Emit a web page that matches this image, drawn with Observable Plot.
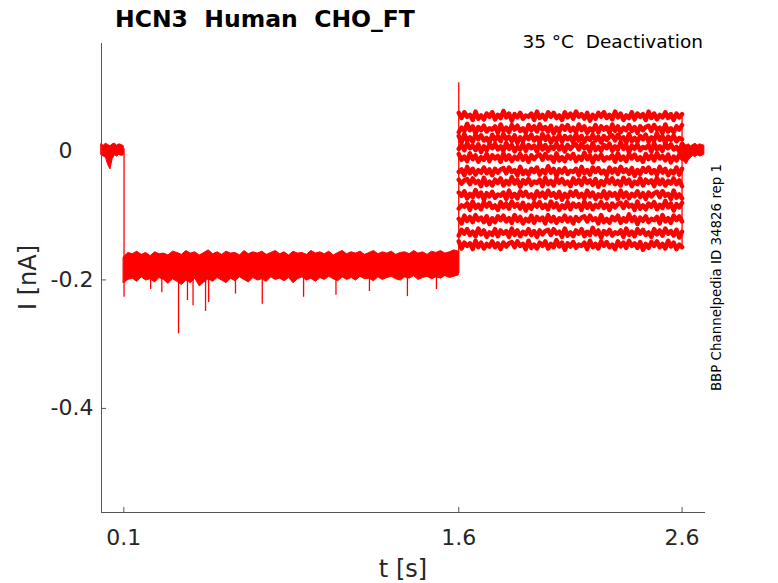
<!DOCTYPE html>
<html><head><meta charset="utf-8">
<script src="https://cdn.jsdelivr.net/npm/d3@7"></script>
<script src="https://cdn.jsdelivr.net/npm/@observablehq/plot@0.6"></script>
<style>body{margin:0;background:#fff} svg{display:block}</style>
</head><body><div id="chart"></div>
<script>
// ---- data ----
const xTicks = [0.1, 1.6, 2.6];
const yTicks = [0, -0.2, -0.4];
const xDomain = [0, 2.705];
const yDomain = [-0.562, 0.168];

// pre-pulse segment (0 – 0.1 s), noise envelope
const preT  = [0, 0.01, 0.02, 0.03, 0.04, 0.05, 0.06, 0.07, 0.08, 0.09, 0.10];
const preHi = [0.011, 0.009, 0.012, 0.010, 0.008, 0.011, 0.012, 0.009, 0.011, 0.010, 0.008];
const preLo = [-0.006, -0.008, -0.010, -0.021, -0.028, -0.012, -0.006, -0.008, -0.005, -0.007, -0.006];

// holding segment (0.1 – 1.6 s, every 0.02 s), noise envelope
const holdHi = [-0.165,-0.158,-0.160,-0.156,-0.161,-0.158,-0.163,-0.157,-0.160,-0.159,
  -0.162,-0.156,-0.158,-0.161,-0.155,-0.159,-0.157,-0.162,-0.158,-0.154,
  -0.160,-0.157,-0.161,-0.156,-0.159,-0.158,-0.162,-0.155,-0.160,-0.157,
  -0.159,-0.156,-0.161,-0.158,-0.155,-0.160,-0.157,-0.162,-0.156,-0.159,
  -0.158,-0.161,-0.155,-0.159,-0.157,-0.160,-0.156,-0.162,-0.158,-0.155,
  -0.160,-0.157,-0.159,-0.156,-0.161,-0.158,-0.155,-0.160,-0.157,-0.159,
  -0.156,-0.161,-0.158,-0.157,-0.160,-0.155,-0.159,-0.157,-0.161,-0.156,
  -0.158,-0.155,-0.159,-0.157,-0.154,-0.156];
const holdLo = [-0.205,-0.200,-0.198,-0.203,-0.196,-0.201,-0.199,-0.204,-0.197,-0.200,
  -0.206,-0.199,-0.203,-0.208,-0.201,-0.205,-0.198,-0.210,-0.204,-0.199,
  -0.203,-0.197,-0.201,-0.205,-0.198,-0.202,-0.196,-0.200,-0.204,-0.197,
  -0.201,-0.199,-0.203,-0.196,-0.200,-0.198,-0.202,-0.197,-0.205,-0.199,
  -0.196,-0.201,-0.198,-0.203,-0.197,-0.200,-0.195,-0.199,-0.202,-0.196,
  -0.200,-0.197,-0.201,-0.195,-0.199,-0.198,-0.202,-0.196,-0.200,-0.197,
  -0.195,-0.199,-0.201,-0.196,-0.198,-0.194,-0.200,-0.197,-0.195,-0.199,
  -0.196,-0.198,-0.194,-0.197,-0.195,-0.193];

// downward spikes and step edges: time, top, bottom (nA)
const spikeT   = [0.101, 0.22, 0.27, 0.345, 0.385, 0.41, 0.466, 0.48, 0.60, 0.72, 0.905, 1.05, 1.20, 1.37, 1.50, 1.60, 2.60];
const spikeTop = [0.004, -0.19, -0.19, -0.19, -0.19, -0.19, -0.19, -0.19, -0.19, -0.19, -0.19, -0.19, -0.19, -0.19, -0.19, 0.107, 0.060];
const spikeBot = [-0.227, -0.215, -0.220, -0.284, -0.232, -0.240, -0.249, -0.235, -0.222, -0.238, -0.227, -0.224, -0.218, -0.226, -0.215, -0.190, -0.152];

// test-pulse traces (1.6 – 2.6 s): mean level of each sweep
const stepLevels = [0.055, 0.035, 0.020, 0.006, -0.010, -0.031, -0.048, -0.068, -0.085, -0.106, -0.127, -0.146];
// ripple, every 0.0125 s
const ripple = [0.005,-0.003,0.006,-0.001,0.002,-0.006,0.007,-0.004,0.001,-0.005,
  0.004,-0.001,0.006,-0.005,0.002,-0.003,0.008,-0.002,0.004,-0.007,
  0.003,-0.002,0.005,-0.004,0.001,-0.001,0.004,-0.006,0.007,-0.003,
  0.002,-0.005,0.006,-0.001,0.005,-0.003,0.001,-0.006,0.006,-0.002,
  0.004,-0.004,0.007,-0.001,0.003,-0.004,0.005,-0.007,0.002,-0.004,
  0.005,-0.001,0.006,-0.003,0.002,-0.005,0.007,-0.002,0.004,-0.006,
  0.001,-0.003,0.006,-0.005,0.004,-0.001,0.003,-0.006,0.007,-0.003,
  0.004,-0.005,0.002,-0.002,0.006,-0.003,0.003,-0.006,0.004,-0.002,0.003];

// post-pulse segment (2.6 – 2.7 s)
const postT  = [2.60, 2.61, 2.62, 2.63, 2.64, 2.65, 2.66, 2.67, 2.68, 2.69, 2.70];
const postHi = [0.010, 0.012, 0.009, 0.011, 0.008, 0.010, 0.012, 0.009, 0.011, 0.010, 0.009];
const postLo = [-0.012, -0.016, -0.020, -0.014, -0.010, -0.007, -0.009, -0.006, -0.008, -0.007, -0.005];

// ---- tables ----
const preRows = preT.map((t, i) => ({t, hi: preHi[i], lo: preLo[i]}));
const holdRows = holdHi.map((hi, i) => ({t: 0.1 + i * 0.02, hi, lo: holdLo[i]}));
const postRows = postT.map((t, i) => ({t, hi: postHi[i], lo: postLo[i]}));
const spikeRows = spikeT.map((t, i) => ({t, top: spikeTop[i], bot: spikeBot[i]}));
const traceRows = [];
stepLevels.forEach((lv, k) => {
  ripple.forEach((_, i) => {
    traceRows.push({k, t: 1.6 + i * 0.0125, I: lv + ripple[(i + 13 * k) % ripple.length]});
  });
});

const W = 778, H = 583, ML = 101, MR = 73, MT = 43, MB = 71;
const axisColor = "#555";
const RED = "#ff0000";

const chart = Plot.plot({
  width: W, height: H,
  marginLeft: ML, marginRight: MR, marginTop: MT, marginBottom: MB,
  x: {domain: xDomain},
  y: {domain: yDomain},
  style: {fontFamily: "DejaVu Sans", color: "#262626", background: "#fff", overflow: "visible"},
  marks: [
    Plot.areaY(preRows, {x: "t", y1: "lo", y2: "hi", fill: RED, stroke: RED, strokeWidth: 1}),
    Plot.areaY(holdRows, {x: "t", y1: "lo", y2: "hi", fill: RED, stroke: RED, strokeWidth: 1}),
    Plot.areaY(postRows, {x: "t", y1: "lo", y2: "hi", fill: RED, stroke: RED, strokeWidth: 1}),
    Plot.line(traceRows, {x: "t", y: "I", z: "k", stroke: RED, strokeWidth: 4.5}),
    Plot.ruleX(spikeRows, {x: "t", y1: "top", y2: "bot", stroke: RED, strokeWidth: 1.3}),
    Plot.ruleX([xDomain[0]], {stroke: axisColor}),
    Plot.ruleY([yDomain[0]], {stroke: axisColor}),
    Plot.tickX(xTicks, {x: d => d, stroke: axisColor, insetTop: H - MT - MB - 5}),
    Plot.tickY(yTicks, {y: d => d, stroke: axisColor, insetRight: W - ML - MR - 5}),
    Plot.axisX({ticks: xTicks, tickSize: 0, tickPadding: 17, fontSize: 22, label: null,
      tickFormat: d => String(d)}),
    Plot.axisY({ticks: yTicks, tickSize: 0, tickPadding: 8, fontSize: 22, label: null,
      tickFormat: d => d === 0 ? "0\u2007\u2008" : String(d)})
  ]
});

const svg = d3.select(chart);
svg.append("text").attr("x", 115).attr("y", 27).attr("text-anchor", "start")
  .style("white-space", "pre").attr("font-weight", "bold").attr("font-size", 23.5).attr("fill", "#000")
  .text("HCN3  Human  CHO_FT");
svg.append("text").attr("x", 703).attr("y", 48).attr("text-anchor", "end")
  .style("white-space", "pre").attr("font-size", 18.5).attr("fill", "#000")
  .text("35 °C  Deactivation");
svg.append("text").attr("transform", "translate(721,277.5) rotate(-90)").attr("text-anchor", "middle")
  .attr("font-size", 13.4).attr("fill", "#000")
  .text("BBP Channelpedia ID 34826 rep 1");
svg.append("text").attr("transform", "translate(36,277.5) rotate(-90)").attr("text-anchor", "middle")
  .attr("font-size", 24).attr("fill", "#262626")
  .text("I [nA]");
svg.append("text").attr("x", 403).attr("y", 577).attr("text-anchor", "middle")
  .attr("font-size", 24).attr("fill", "#262626")
  .text("t [s]");

document.getElementById("chart").appendChild(chart);
</script>
</body></html>
